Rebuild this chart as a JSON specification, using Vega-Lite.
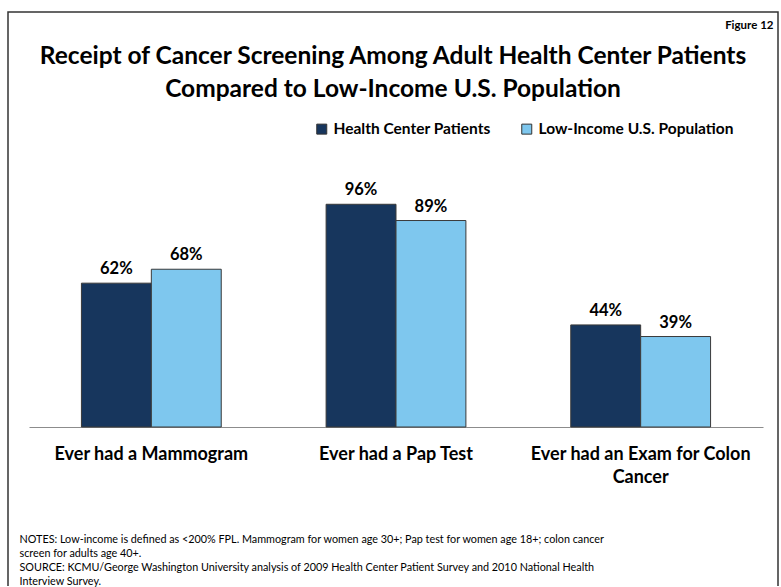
{
  "$schema": "https://vega.github.io/schema/vega-lite/v6.json",
  "width": 770,
  "height": 574,
  "autosize": {"type": "none"},
  "padding": {"left": 8, "top": 12, "right": 3, "bottom": 1},
  "background": "#ffffff",
  "title": {
    "text": ["Receipt of Cancer Screening Among Adult Health Center Patients", "Compared to Low-Income U.S. Population"],
    "font": "Lato",
    "fontSize": 24.5,
    "fontWeight": "bold",
    "color": "#000000",
    "lineHeight": 33,
    "anchor": "middle",
    "offset": -90
  },
  "config": {
    "view": {"stroke": "#333333", "strokeWidth": 1.5, "strokeDash": [1344, 770, 574]},
    "font": "Lato"
  },
  "data": {
    "values": [
      {"test": "Ever had a Mammogram", "group": "Health Center Patients", "pct": 0.62},
      {"test": "Ever had a Mammogram", "group": "Low-Income U.S. Population", "pct": 0.68},
      {"test": "Ever had a Pap Test", "group": "Health Center Patients", "pct": 0.96},
      {"test": "Ever had a Pap Test", "group": "Low-Income U.S. Population", "pct": 0.89},
      {"test": "Ever had an Exam for Colon Cancer", "group": "Health Center Patients", "pct": 0.44},
      {"test": "Ever had an Exam for Colon Cancer", "group": "Low-Income U.S. Population", "pct": 0.39}
    ]
  },
  "encoding": {
    "x": {
      "field": "test",
      "type": "nominal",
      "sort": null,
      "scale": {"range": [21, 755], "paddingInner": 0.4286, "paddingOuter": 0.2143},
      "axis": {
        "orient": "bottom",
        "offset": -159,
        "labelAngle": 0,
        "labelFont": "Lato",
        "labelFontSize": 18,
        "labelFontWeight": "bold",
        "labelColor": "#000000",
        "labelPadding": 18,
        "labelLineHeight": 23,
        "labelLimit": 400,
        "labelExpr": "datum.label == 'Ever had an Exam for Colon Cancer' ? ['Ever had an Exam for Colon', 'Cancer'] : datum.label",
        "ticks": false,
        "domainColor": "#8c8c8c",
        "domainWidth": 1.2,
        "grid": false,
        "title": ["NOTES: Low-income is defined as <200% FPL. Mammogram for women age 30+; Pap test for women age 18+; colon cancer", "screen for adults age 40+.", "SOURCE: KCMU/George Washington University analysis of 2009 Health Center Patient Survey and 2010 National Health", "Interview Survey."],
        "titleFont": "Lato",
        "titleFontSize": 10.8,
        "titleFontWeight": "normal",
        "titleColor": "#000000",
        "titleLineHeight": 14.2,
        "titleAnchor": "start",
        "titleAlign": "left",
        "titleBaseline": "top",
        "titleX": 11,
        "titleY": 106
      }
    },
    "xOffset": {
      "field": "group",
      "type": "nominal",
      "sort": ["Health Center Patients", "Low-Income U.S. Population"],
      "scale": {"paddingInner": 0, "paddingOuter": 0}
    },
    "y": {
      "field": "pct",
      "type": "quantitative",
      "scale": {"domain": [0, 1], "range": [415, 183]},
      "axis": {
        "orient": "right",
        "labels": false,
        "ticks": false,
        "domain": false,
        "grid": false,
        "title": "Figure 12",
        "titleAngle": 0,
        "titleFont": "Lato",
        "titleFontSize": 11.5,
        "titleFontWeight": "bold",
        "titleColor": "#000000",
        "titleAlign": "right",
        "titleBaseline": "top",
        "titleX": -5,
        "titleY": 7
      }
    }
  },
  "layer": [
    {
      "mark": {"type": "bar", "stroke": "#3a3a3a", "strokeWidth": 1},
      "encoding": {
        "color": {
          "field": "group",
          "type": "nominal",
          "scale": {"domain": ["Health Center Patients", "Low-Income U.S. Population"], "range": ["#17365d", "#7ec7ee"]},
          "legend": {
            "title": null,
            "orient": "none",
            "direction": "horizontal",
            "legendX": 306,
            "legendY": 109,
            "symbolType": "square",
            "symbolSize": 100,
            "symbolStrokeColor": "#333333",
            "symbolStrokeWidth": 1,
            "labelFont": "Lato",
            "labelFontSize": 15.5,
            "labelFontWeight": "bold",
            "labelColor": "#000000",
            "labelOffset": 4,
            "labelLimit": 400,
            "columnPadding": 28,
            "padding": 0
          }
        }
      }
    },
    {
      "mark": {"type": "text", "baseline": "bottom", "dy": -6, "font": "Lato", "fontSize": 16.5, "fontWeight": "bold", "color": "#000000"},
      "encoding": {
        "text": {"field": "pct", "type": "quantitative", "format": ".0%"}
      }
    }
  ]
}
